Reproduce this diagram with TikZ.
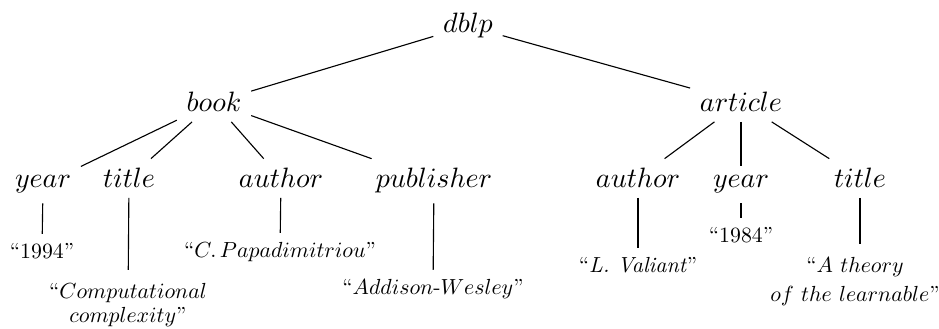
\documentclass[tikz,border=0pt]{standalone}
\newcommand\lfs[1]{\scalebox{0.78}{\normalsize #1}}
\newcommand\lfm[1]{\scalebox{0.78}{\normalsize\begin{tabular}[b]{@{}c@{}}#1\end{tabular}}}
\begin{document}
\begin{tikzpicture}[x=0.35714pt,y=-0.35714pt,
  lab/.style={anchor=base, font=\normalsize},
  leaf/.style={anchor=base},
  edge/.style={draw, line width=0.4pt}]
\useasboundingbox (0,0) rectangle (939,329);
% internal nodes
\node[lab] (dblp) at (468,33) {$dblp$};
\node[lab] (book) at (214,112) {$book$};
\node[lab] (article) at (741,112) {$article$};
% book children
\node[lab] (byear) at (43,188) {$year$};
\node[lab] (btitle) at (129,188) {$title$};
\node[lab] (bauthor) at (281,188) {$author$};
\node[lab] (bpub) at (434,188) {$publisher$};
% article children
\node[lab] (aauthor) at (638,188) {$author$};
\node[lab] (ayear) at (741,188) {$year$};
\node[lab] (atitle) at (860,188) {$title$};
% leaves
\node[leaf] (v1994) at (42,259) {\lfs{``1994''}};
\node[leaf] (vcomp) at (128,323) {\lfm{``$Computational$\\[-0.6pt]$complexity$''}};
\node[leaf] (vpapa) at (280,258) {\lfs{``$C.\,Papadimitriou$''}};
\node[leaf] (vaddi) at (433,295) {\lfs{``$Addison\mbox{-}Wesley$''}};
\node[leaf] (vvali) at (638,273) {\lfs{``\textit{L. Valiant}''}};
\node[leaf] (v1984) at (741,243) {\lfs{``1984''}};
\node[leaf] (vtheo) at (855,302) {\lfm{``$A\ theory$\\[1.6pt]$of\ the\ learnable$''}};
% edges
\draw[edge] (dblp) -- (book);
\draw[edge] (dblp) -- (article);
\draw[edge] (book) -- (byear);
\draw[edge] (book) -- (btitle);
\draw[edge] (book) -- (bauthor);
\draw[edge] (book) -- (bpub);
\draw[edge] (article) -- (aauthor);
\draw[edge] (article) -- (ayear);
\draw[edge] (article) -- (atitle);
\draw[edge] (byear) -- (v1994);
\draw[edge] (btitle) -- (vcomp);
\draw[edge] (bauthor) -- (vpapa);
\draw[edge] (bpub) -- (vaddi);
\draw[edge] (aauthor) -- (vvali);
\draw[edge] (ayear) -- (v1984);
\draw[edge] (atitle) -- (atitle |- vtheo.north);
\end{tikzpicture}
\end{document}
